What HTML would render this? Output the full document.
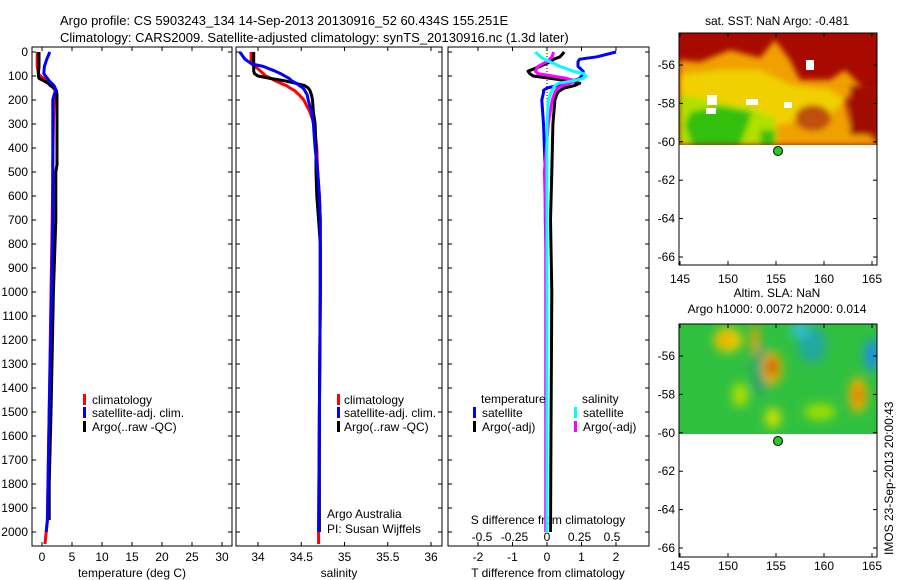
<!DOCTYPE html>
<html><head><meta charset="utf-8"><style>
body{margin:0;background:#fff;}
svg{display:block;font-family:"Liberation Sans",sans-serif;}
text{font-size:12px;fill:#000;}
</style></head><body>
<svg id="chart" width="900" height="580" viewBox="0 0 900 580">
<defs>
<filter id="blur3" x="-10%" y="-10%" width="120%" height="120%"><feGaussianBlur stdDeviation="3"/></filter>
<filter id="blur5" x="-20%" y="-20%" width="140%" height="140%"><feGaussianBlur stdDeviation="5"/></filter>
<clipPath id="clipSST"><rect x="679" y="33" width="198" height="112"/></clipPath>
<clipPath id="clipSLA"><rect x="679" y="324" width="198" height="110"/></clipPath>
</defs>
<text x="60" y="25" style="font-size:13px">Argo profile: CS 5903243_134 14-Sep-2013 20130916_52 60.434S 155.251E</text>
<text x="60" y="42" style="font-size:13px">Climatology: CARS2009. Satellite-adjusted climatology: synTS_20130916.nc (1.3d later)</text>
<g id="g1"></g>
<g id="g2"></g>
<g id="g3"></g>
<g id="maps">
<text x="777" y="25" text-anchor="middle">sat. SST: NaN Argo: -0.481</text>
<g clip-path="url(#clipSST)">
<rect x="679" y="33" width="198" height="112" fill="#a80a00"/>
<g filter="url(#blur3)">
<path d="M679,60 L700,62 L730,50 L760,58 L775,40 L790,60 L800,80 L830,80 L845,70 L860,85 L845,100 L850,125 L877,140 L877,145 L679,145 Z" fill="#f0a000"/>
<path d="M679,75 L720,70 L760,70 L790,85 L830,90 L845,100 L830,115 L800,120 L779,125 L760,125 L679,130 Z" fill="#f0d000"/>
<ellipse cx="813" cy="118" rx="18" ry="13" fill="#c05010"/>
<path d="M679,95 L700,98 L720,102 L750,108 L775,118 L778,145 L679,145 Z" fill="#b0e000"/>
<path d="M690,112 L720,106 L752,112 L748,125 L740,145 L692,145 L685,125 Z" fill="#30c010"/>
<path d="M760,130 L775,130 L775,145 L760,145 Z" fill="#40c010"/>
<rect x="850" y="85" width="27" height="50" fill="#a00800"/>
</g>
<rect x="707" y="95" width="10" height="10" fill="#fff"/>
<rect x="746" y="99" width="12" height="6" fill="#fff"/>
<rect x="806" y="60" width="8" height="10" fill="#fff"/>
<rect x="706" y="108" width="10" height="6" fill="#fff"/>
<rect x="784" y="102" width="8" height="6" fill="#fff"/>
</g>
<rect x="679" y="33" width="198" height="232" fill="none" stroke="#000"/>
<circle cx="778" cy="151" r="4.5" fill="#22cc22" stroke="#000"/>
<text x="777" y="297" text-anchor="middle">Altim. SLA: NaN</text>
<text x="777" y="313" text-anchor="middle">Argo h1000: 0.0072 h2000: 0.014</text>
<g clip-path="url(#clipSLA)">
<rect x="679" y="324" width="198" height="110" fill="#30c040"/>
<g filter="url(#blur5)">
<ellipse cx="812" cy="345" rx="14" ry="18" fill="#20a8a0"/>
<ellipse cx="800" cy="330" rx="10" ry="8" fill="#30c0d0"/>
<ellipse cx="872" cy="355" rx="8" ry="16" fill="#2090e0"/>
<ellipse cx="760" cy="370" rx="8" ry="25" fill="#20a070"/>
<ellipse cx="728" cy="340" rx="14" ry="12" fill="#f0d000"/>
<ellipse cx="725" cy="340" rx="7" ry="6" fill="#f0a000"/>
<ellipse cx="755" cy="340" rx="4" ry="16" fill="#f0a000"/>
<ellipse cx="772" cy="368" rx="10" ry="17" fill="#f0b000"/>
<ellipse cx="772" cy="367" rx="5" ry="9" fill="#c04000"/>
<ellipse cx="858" cy="395" rx="9" ry="18" fill="#f0b000"/>
<ellipse cx="858" cy="395" rx="4" ry="8" fill="#e06000"/>
<ellipse cx="740" cy="395" rx="8" ry="12" fill="#b0e000"/>
<ellipse cx="773" cy="418" rx="8" ry="10" fill="#d0e000"/>
<ellipse cx="820" cy="412" rx="16" ry="8" fill="#a0e000"/>
</g>
</g>
<rect x="679" y="324" width="198" height="233" fill="none" stroke="#000"/>
<circle cx="778" cy="441" r="4.5" fill="#22cc22" stroke="#000"/>
<text transform="translate(893,555) rotate(-90)">IMOS 23-Sep-2013 20:00:43</text>
</g>
</svg>
<script>
// ---- data ----
const tDepth = [0,30,60,90,100,110,120,130,140,150,160,180,200,300,470,500,700,1000,1500,1800,1950,2000,2050];
const tClim  = [-0.8,-0.8,-0.8,-0.6,-0.3,0.3,0.8,1.2,1.6,1.9,2.2,2.1,2.0,1.9,1.8,1.8,1.7,1.5,1.2,1.0,0.9,0.7,0.5];
const tSat   = [1.3,0.8,0.4,0.3,0.6,0.9,1.2,1.6,2.0,2.2,2.3,2.0,1.8,1.8,1.8,1.8,1.8,1.6,1.2,1.0,0.9,0.7,null];
const tArgo  = [-0.5,-0.5,-0.5,-0.6,-0.6,-0.5,0.3,1.0,1.4,2.0,2.4,2.5,2.5,2.5,2.5,2.3,2.3,1.9,1.5,1.2,1.2,null,null];
const sDepth = [0,30,50,60,70,80,90,100,110,120,130,140,150,160,180,200,250,300,400,500,600,700,800,1000,1500,2000,2050];
const sClim  = [33.92,33.92,33.93,33.96,34.0,34.03,34.06,34.09,34.15,34.2,34.26,34.33,34.37,34.42,34.48,34.53,34.6,34.65,34.68,34.69,34.71,34.72,34.72,34.72,34.71,34.70,34.70];
const sSat   = [33.79,33.85,33.93,34.06,34.13,34.2,34.26,34.31,34.36,34.39,34.44,34.48,34.52,34.54,34.57,34.58,34.62,34.64,34.66,34.69,34.71,34.72,34.72,34.72,34.71,34.70,null];
const sArgo  = [33.95,33.95,33.95,33.95,33.95,33.95,33.96,34.0,34.14,34.31,34.43,34.54,34.58,34.6,34.62,34.63,34.64,34.66,34.67,34.67,34.68,34.70,34.72,34.72,34.71,34.71,null];
const dDepth = [0,20,30,40,60,80,90,100,110,120,130,140,150,160,170,200,300,500,700,1000,1500,2000];
const dTsat  = [2.0,1.45,0.95,0.9,0.9,1.05,1.05,1.0,0.95,0.75,0.5,0.3,0.0,-0.1,-0.1,-0.15,-0.1,-0.05,-0.05,0.0,0.0,-0.02];
const dTargo = [0.5,0.38,0.2,0.1,-0.2,-0.55,-0.5,-0.4,0.1,0.6,0.95,0.8,0.5,0.38,0.3,0.23,0.17,0.14,0.1,0.14,0.12,0.1];
const dSsat  = [-0.09,-0.05,-0.02,0.02,0.1,0.2,0.28,0.3,0.28,0.2,0.09,0.06,0.05,0.04,0.03,0.01,0.0,0.0,0.0,0.0,0.0,0.0];
const dSargo = [0.05,0.04,0.02,0.0,-0.07,-0.09,-0.07,0.04,0.15,0.22,0.18,0.12,0.08,0.07,0.06,0.04,0.01,-0.02,-0.01,-0.01,-0.01,-0.01];
const depthTicks = [0,100,200,300,400,500,600,700,800,900,1000,1100,1200,1300,1400,1500,1600,1700,1800,1900,2000];
const tTicks = [0,5,10,15,20,25,30];
const sTicks = [34,34.5,35,35.5,36];
const dTticks = [-2,-1,0,1,2];
const dSticks = [-0.5,-0.25,0,0.25,0.5];
const dStickLabels = ['-0.5','-0.25','0','0.25','0.5'];

// ---- axes ----
const TOP=47, BOT=546;
const yD = d => 52 + d*0.24;
const xT = t => 42 + 6*t;
const xS = s => 258 + 86.5*(s-34);
const xDT = v => 547 + 34.5*v;
const xDS = v => 547 + 130*v;
const NS='http://www.w3.org/2000/svg';
function mk(tag, attrs, parent){const e=document.createElementNS(NS,tag);for(const k in attrs)e.setAttribute(k,attrs[k]);parent.appendChild(e);return e;}

function frame(g,x0,x1,name){
  const r=mk('rect',{x:x0,y:TOP,width:x1-x0,height:BOT-TOP,fill:'none',stroke:'#000'},g);
  
  
  depthTicks.forEach(d=>{
    mk('line',{x1:x0,x2:x0+4,y1:yD(d),y2:yD(d),stroke:'#000'},g);
    mk('line',{x1:x1-4,x2:x1,y1:yD(d),y2:yD(d),stroke:'#000'},g);
  });
}
function xticks(g,vals,fx,labels,ly,name){
  vals.forEach((v,i)=>{
    const x=fx(v);
    mk('line',{x1:x,x2:x,y1:TOP,y2:TOP+4,stroke:'#000'},g);
    mk('line',{x1:x,x2:x,y1:BOT-4,y2:BOT,stroke:'#000'},g);
    const t=mk('text',{x:x,y:ly,'text-anchor':'middle'},g);
    t.textContent=labels?labels[i]:String(v);
    
    
  });
}
function line(g,ys,xs,fx,color,w,name){
  let d='';
  xs.forEach((v,i)=>{ if(v===null||v===undefined) return; d+=(d?'L':'M')+fx(v).toFixed(1)+','+yD(ys[i]).toFixed(1); });
  const p=mk('path',{d:d,fill:'none',stroke:color,'stroke-width':w,'stroke-linejoin':'round'},g);
  
  
}
function label(g,x,y,txt,name,anchor){
  const t=mk('text',{x:x,y:y,'text-anchor':anchor||'start'},g);
  t.textContent=txt;
  
  
  return t;
}
function swatch(g,x,y,color,name){
  const r=mk('rect',{x:x,y:y-10,width:3,height:11,fill:color},g);
  
  
}

// panel 1
const g1=document.getElementById('g1');
frame(g1,32,232,'temperature-panel');
depthTicks.forEach(d=>label(g1,28,yD(d)+4,String(d),'depth-tick-label','end'));
xticks(g1,tTicks,xT,null,561,'temperature');
label(g1,132,577,'temperature (deg C)','temperature-axis-title','middle');
line(g1,tDepth,tClim,xT,'#ff0000',3,'temperature-climatology-line');
line(g1,tDepth,tArgo,xT,'#000000',3,'temperature-argo-line');
line(g1,tDepth,tSat,xT,'#0000ff',3,'temperature-satellite-line');
swatch(g1,83,404,'#ff0000','legend-swatch-climatology'); label(g1,92,404,'climatology','legend-climatology');
swatch(g1,83,417,'#0000ff','legend-swatch-satellite'); label(g1,92,417,'satellite-adj. clim.','legend-satellite');
swatch(g1,83,431,'#000000','legend-swatch-argo'); label(g1,92,431,'Argo(..raw -QC)','legend-argo');

// panel 2
const g2=document.getElementById('g2');
frame(g2,236,442,'salinity-panel');
xticks(g2,sTicks,xS,null,561,'salinity');
label(g2,339,577,'salinity','salinity-axis-title','middle');
line(g2,sDepth,sClim,xS,'#ff0000',3,'salinity-climatology-line');
line(g2,sDepth,sArgo,xS,'#000000',3,'salinity-argo-line');
line(g2,sDepth,sSat,xS,'#0000ff',3,'salinity-satellite-line');
swatch(g2,337,404,'#ff0000','legend-swatch-climatology'); label(g2,344,404,'climatology','legend-climatology');
swatch(g2,337,417,'#0000ff','legend-swatch-satellite'); label(g2,344,417,'satellite-adj. clim.','legend-satellite');
swatch(g2,337,431,'#000000','legend-swatch-argo'); label(g2,344,431,'Argo(..raw -QC)','legend-argo');
label(g2,327,518,'Argo Australia','credit-line-1');
label(g2,327,533,'PI: Susan Wijffels','credit-line-2');

// panel 3
const g3=document.getElementById('g3');
frame(g3,448,649,'difference-panel');
xticks(g3,dTticks,xDT,null,561,'t-difference');
dSticks.forEach((v,i)=>{const t=label(g3,xDS(v),541,dStickLabels[i],'s-difference-tick-label','middle');});
label(g3,548,524,'S difference from climatology','s-difference-axis-title','middle');
label(g3,548,577,'T difference from climatology','t-difference-axis-title','middle');
mk('line',{x1:547,x2:547,y1:TOP,y2:200,stroke:'#000','stroke-dasharray':'1,2'},g3);
line(g3,dDepth,dTargo,xDT,'#000000',3,'t-diff-argo-line');
line(g3,dDepth,dTsat,xDT,'#0000ff',3,'t-diff-satellite-line');
line(g3,dDepth,dSargo,xDS,'#ff00ff',3,'s-diff-argo-line');
line(g3,dDepth,dSsat,xDS,'#00ffff',3,'s-diff-satellite-line');
label(g3,481,403,'temperature','legend-temperature-heading');
swatch(g3,473,417,'#0000ff','legend-swatch-t-satellite'); label(g3,482,417,'satellite','legend-t-satellite');
swatch(g3,473,431,'#000000','legend-swatch-t-argo'); label(g3,482,431,'Argo(-adj)','legend-t-argo');
label(g3,582,403,'salinity','legend-salinity-heading');
swatch(g3,574,417,'#00ffff','legend-swatch-s-satellite'); label(g3,583,417,'satellite','legend-s-satellite');
swatch(g3,574,431,'#ff00ff','legend-swatch-s-argo'); label(g3,583,431,'Argo(-adj)','legend-s-argo');

// maps axes
const lonTicks=[145,150,155,160,165];
const latTicks=[-56,-58,-60,-62,-64,-66];
const mg=document.getElementById('maps');
const xLon = l => 680 + 9.6*(l-145);
[[65,283],[356,570]].forEach(([lat56,ly],k)=>{
  const yLat = l => lat56 + (-56-l)*19.2;
  const top = k===0?33:324, bot = k===0?265:557;
  lonTicks.forEach(l=>{
    mk('line',{x1:xLon(l),x2:xLon(l),y1:bot-4,y2:bot,stroke:'#000'},mg);
    mk('line',{x1:xLon(l),x2:xLon(l),y1:top,y2:top+4,stroke:'#000'},mg);
    label(mg,xLon(l),ly,String(l),'longitude-tick-label','middle');
  });
  latTicks.forEach(l=>{
    mk('line',{x1:679,x2:683,y1:yLat(l),y2:yLat(l),stroke:'#000'},mg);
    mk('line',{x1:873,x2:877,y1:yLat(l),y2:yLat(l),stroke:'#000'},mg);
    label(mg,675,yLat(l)+4,String(l),'latitude-tick-label','end');
  });
});
</script>
</body></html>
